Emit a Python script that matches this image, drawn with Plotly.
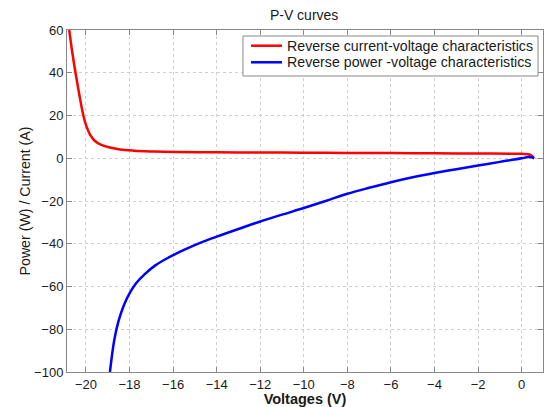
import plotly.graph_objects as go

# Reverse current-voltage characteristic (V, A)
iv_voltage = [-20.77, -20.62, -20.48, -20.3, -20.13, -19.98, -19.82, -19.6, -19.3, -18.9,
              -18.44, -17.8, -17.0, -16.0, -14.0, -12.0, -10.0, -8.0, -6.0, -4.0,
              -2.0, 0.0, 0.3, 0.45, 0.55]
iv_current = [60.0, 49.0, 40.0, 29.5, 20.5, 15.0, 11.2, 8.2, 6.3, 5.0,
              4.1, 3.55, 3.2, 2.95, 2.8, 2.7, 2.6, 2.5, 2.4, 2.3,
              2.2, 2.05, 1.9, 1.3, 0.2]

# Reverse power-voltage characteristic (V, W)
pv_voltage = [-18.9, -18.7, -18.5, -18.25, -18.0, -17.7, -17.3, -16.8, -16.2, -15.5,
              -14.76, -14.0, -13.0, -12.0, -11.0, -10.0, -9.0, -8.0, -7.0, -6.0,
              -5.0, -4.0, -3.0, -2.0, -1.0, 0.0, 0.3, 0.45, 0.58]
pv_power = [-100.0, -85.0, -76.0, -68.5, -63.2, -58.5, -54.2, -50.0, -46.4, -42.9,
            -39.6, -36.7, -33.1, -29.6, -26.4, -23.3, -20.0, -16.6, -13.8, -11.2,
            -8.9, -6.9, -5.1, -3.4, -1.7, 0.0, 0.6, 0.5, 0.0]

series_names = ["Reverse current-voltage characteristics",
                "Reverse power -voltage characteristics"]
series_colors = ["#ff0000", "#0000ff"]

x_ticks = list(range(-20, 1, 2))
y_ticks = list(range(-100, 61, 20))

FONT = "Liberation Sans, Arial, sans-serif"
INK = "#1a1a1a"
FRAME = "#888888"

fig = go.Figure()
for xs, ys, name, color in zip([iv_voltage, pv_voltage], [iv_current, pv_power],
                               series_names, series_colors):
    fig.add_trace(go.Scatter(
        x=xs, y=ys, mode="lines", name=name, showlegend=False,
        line=dict(color=color, width=2.5, shape="spline", smoothing=1.0),
    ))

axis_common = dict(
    showline=True, linecolor=FRAME, linewidth=1, mirror="ticks",
    ticks="inside", ticklen=5, tickcolor=FRAME,
    showgrid=True, gridcolor="#cfcfcf", griddash="dot", gridwidth=1,
    zeroline=False, automargin=False,
    tickfont=dict(family=FONT, size=13, color=INK),
)

fig.update_xaxes(range=[-20.87, 0.98], tickvals=x_ticks,
                 title=dict(text="<b>Voltages (V)</b>", standoff=4,
                            font=dict(family=FONT, size=14.5, color=INK)),
                 **axis_common)
fig.update_yaxes(range=[-100, 60], tickvals=y_ticks,
                 title=dict(text="Power (W) / Current (A)", standoff=0,
                            font=dict(family=FONT, size=14.2, color=INK)),
                 **axis_common)

# Compact boxed legend in the upper-right corner of the axes
box_x0, box_x1, box_y0, box_y1 = 0.3697, 0.9895, 0.8655, 0.9825
sample_x0, sample_x1, label_x = 0.3866, 0.4517, 0.458
row_y = [0.9541, 0.9056]

shapes = [dict(type="rect", xref="paper", yref="paper",
               x0=box_x0, x1=box_x1, y0=box_y0, y1=box_y1,
               line=dict(color=FRAME, width=1), fillcolor="white", layer="above")]
annotations = []
for name, color, yy in zip(series_names, series_colors, row_y):
    shapes.append(dict(type="line", xref="paper", yref="paper",
                       x0=sample_x0, x1=sample_x1, y0=yy, y1=yy,
                       line=dict(color=color, width=2.5), layer="above"))
    annotations.append(dict(xref="paper", yref="paper", x=label_x, y=yy,
                            xanchor="left", yanchor="middle", showarrow=False,
                            text=name, font=dict(family=FONT, size=14.2, color=INK)))

fig.update_layout(
    width=546, height=407,
    margin=dict(l=67, r=3, t=30, b=35),
    paper_bgcolor="white", plot_bgcolor="white",
    title=dict(text="P-V curves", x=0.557, xanchor="center", y=0.962, yanchor="middle",
               font=dict(family=FONT, size=14, color=INK)),
    shapes=shapes,
    annotations=annotations,
    showlegend=False,
)

fig.write_html("out.html")
